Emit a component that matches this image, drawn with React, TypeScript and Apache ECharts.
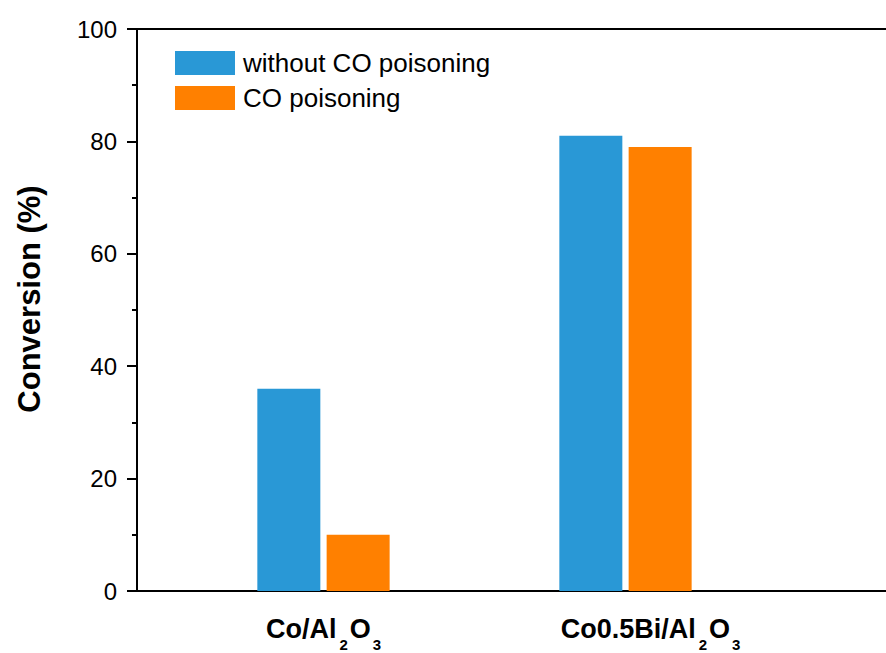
import React, { useEffect, useRef } from 'react';
import * as echarts from 'echarts';

// ---- data ----
const categories = ['Co/Al2O3', 'Co0.5Bi/Al2O3'];
const categoryPositions = [1, 2];
const seriesNames = ['without CO poisoning', 'CO poisoning'];
const withoutCO = [36, 81];
const withCO = [10, 79];
const yMin = 0;
const yMax = 100;
const yStep = 20;

const FONT = "'Liberation Sans', Arial, Helvetica, sans-serif";
const BLUE = '#2998D6';
const ORANGE = '#FF8000';

function toRich(name: string, idx: number): string {
  const m = name.match(/^(.*Al)2O3$/);
  const body = m ? `{b|${m[1]}}{s1|2}{b|O}{s2|3}` : `{b|${name}}`;
  return idx === 1 ? `{g| }${body}` : body;
}

export default function App() {
  const ref = useRef<HTMLDivElement>(null);
  useEffect(() => {
    document.body.style.margin = '0';
    if (!ref.current) return;
    const chart = echarts.init(ref.current, undefined, { renderer: 'svg' });
    const xMin = 0.3825;
    const xMax = 2.8626;
    chart.setOption({
      animation: false,
      backgroundColor: '#ffffff',
      textStyle: { fontFamily: FONT },
      grid: { left: 137, right: 0, top: 29, bottom: 62 },
      legend: {
        orient: 'vertical',
        left: 175,
        top: 50,
        padding: 0,
        itemWidth: 60,
        itemHeight: 24,
        itemGap: 9,
        icon: 'rect',
        selectedMode: false,
        textStyle: { fontFamily: FONT, fontSize: 26, lineHeight: 24, color: '#000', padding: [0, 0, 0, 3] },
        data: seriesNames,
      },
      xAxis: [
        {
          type: 'value',
          min: xMin,
          max: xMax,
          position: 'bottom',
          splitLine: { show: false },
          axisLine: { show: true, onZero: false, lineStyle: { color: '#000', width: 2 } },
          axisTick: { show: false },
          axisLabel: {
            customValues: categoryPositions,
            margin: 24,
            color: '#000',
            formatter: (v: number) => {
              const i = categoryPositions.indexOf(v);
              return i >= 0 ? toRich(categories[i], i) : '';
            },
            rich: {
              b: { fontFamily: FONT, fontSize: 27, fontWeight: 'bold', color: '#000', verticalAlign: 'top', lineHeight: 37 },
              s1: { fontFamily: FONT, fontSize: 15, fontWeight: 'bold', color: '#000', verticalAlign: 'bottom', lineHeight: 37, padding: [0, 2, 0, 3] },
              s2: { fontFamily: FONT, fontSize: 15, fontWeight: 'bold', color: '#000', verticalAlign: 'bottom', lineHeight: 37, padding: [0, 0, 0, 2] },
              g: { width: 50, fontSize: 10 },
            },
          },
        },
        {
          type: 'value',
          min: xMin,
          max: xMax,
          position: 'top',
          splitLine: { show: false },
          axisLine: { show: true, onZero: false, lineStyle: { color: '#000', width: 2 } },
          axisTick: { show: false },
          axisLabel: { show: false },
        },
      ],
      yAxis: {
        type: 'value',
        min: yMin,
        max: yMax,
        interval: yStep,
        name: 'Conversion (%)',
        nameLocation: 'middle',
        nameGap: 92,
        nameTextStyle: { fontFamily: FONT, fontSize: 31, fontWeight: 'bold', color: '#000', padding: [0, 0, 0, 22] },
        splitLine: { show: false },
        axisLine: { show: true, onZero: false, lineStyle: { color: '#000', width: 2 } },
        axisTick: { show: true, length: 10, lineStyle: { color: '#000', width: 2 } },
        minorTick: { show: true, splitNumber: 2, length: 5, lineStyle: { color: '#000', width: 2 } },
        axisLabel: { fontFamily: FONT, fontSize: 24, color: '#000', margin: 20 },
      },
      series: [
        {
          name: seriesNames[0],
          type: 'bar',
          xAxisIndex: 0,
          barWidth: 63,
          barGap: '10%',
          itemStyle: { color: BLUE },
          data: categoryPositions.map((x, i) => [x, withoutCO[i]]),
        },
        {
          name: seriesNames[1],
          type: 'bar',
          xAxisIndex: 0,
          barWidth: 63,
          barGap: '10%',
          itemStyle: { color: ORANGE },
          data: categoryPositions.map((x, i) => [x, withCO[i]]),
        },
      ],
    });
    return () => chart.dispose();
  }, []);
  return <div ref={ref} style={{ width: 886, height: 653 }} />;
}
